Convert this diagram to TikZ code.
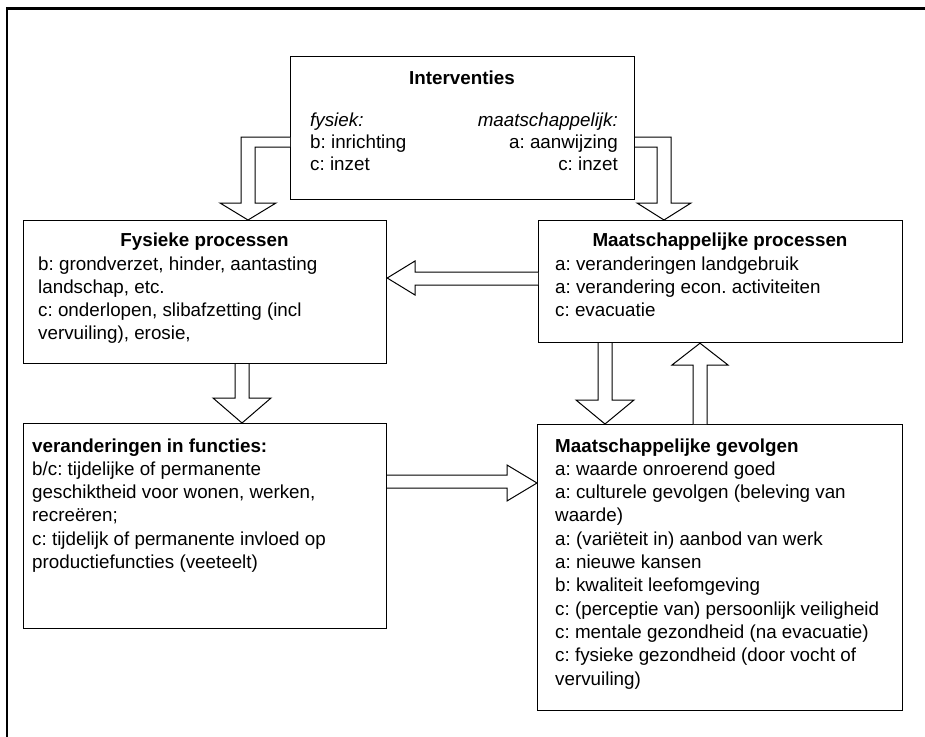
\documentclass[tikz,border=0pt]{standalone}
\usepackage{fontspec}
\setmainfont{Liberation Sans}
\frenchspacing
\begin{document}
\begin{tikzpicture}[x=1pt,y=-1pt,
  box/.style={draw, line width=1.2pt, rectangle, anchor=north west, inner sep=0pt},
  tx/.style={inner sep=0pt, font=\fontsize{18.8}{23.3}\selectfont},
  tl/.style={tx, anchor=base west},
  tr/.style={tx, anchor=base east},
  tc/.style={tx, anchor=base, font=\fontsize{18.8}{23.3}\selectfont\bfseries},
  harrow/.style={draw, line width=1pt, fill=white, line join=miter}]
\useasboundingbox (0,0) rectangle (925,736);
\fill[white] (0,0) rectangle (925,736);
\begin{scope}
\clip (0,0) rectangle (925,736);
\draw[line width=2.5pt] (7.2,760) -- (7.2,8.5) -- (925,8.5);
\end{scope}

% boxes
\node[box, minimum width=344pt, minimum height=143pt] (int) at (290,56) {};
\node[box, minimum width=363pt, minimum height=143pt] (fys) at (23,220) {};
\node[box, minimum width=364pt, minimum height=122pt] (mp) at (538,220) {};
\node[box, minimum width=363pt, minimum height=205pt] (ver) at (23,423) {};
\node[box, minimum width=365pt, minimum height=286pt] (gev) at (537,424) {};

% Interventies text
\node[tc] (intT) at (462,84) {Interventies};
\node[tl] (intL1) at (310,126) {\itshape fysiek:};
\node[tl] (intL2) at (310,148.3) {b: inrichting};
\node[tl] (intL3) at (310,170.7) {c: inzet};
\node[tr] (intR1) at (618,126) {\itshape maatschappelijk:};
\node[tr] (intR2) at (618,148.3) {a: aanwijzing};
\node[tr] (intR3) at (618,170.7) {c: inzet};

% Fysieke processen
\node[tc] (fysT) at (204.5,246.7) {Fysieke processen};
\foreach \t [count=\i from 0] in {{b: grondverzet, hinder, aantasting},{landschap, etc.},{c: onderlopen, slibafzetting (incl},{vervuiling), erosie,}}
  \node[tl] (fys\i) at (38,270+23.3*\i) {\t};

% Maatschappelijke processen
\node[tc] (mpT) at (720,246.7) {Maatschappelijke processen};
\foreach \t [count=\i from 0] in {{a: veranderingen landgebruik},{a: verandering econ. activiteiten},{c: evacuatie}}
  \node[tl] (mp\i) at (555,270+23.3*\i) {\t};

% veranderingen in functies
\node[tl, font=\fontsize{18.8}{23.3}\selectfont\bfseries] (verT) at (32,452) {veranderingen in functies:};
\foreach \t [count=\i from 0] in {{b/c: tijdelijke of permanente},{geschiktheid voor wonen, werken,},{recreëren;},{c: tijdelijk of permanente invloed op},{productiefuncties (veeteelt)}}
  \node[tl] (ver\i) at (32,475.3+23.3*\i) {\t};

% Maatschappelijke gevolgen
\node[tl, font=\fontsize{18.8}{23.3}\selectfont\bfseries] (gevT) at (555,452) {Maatschappelijke gevolgen};
\foreach \t [count=\i from 0] in {{a: waarde onroerend goed},{a: culturele gevolgen (beleving van},{waarde)},{a: (variëteit in) aanbod van werk},{a: nieuwe kansen},{b: kwaliteit leefomgeving},{c: (perceptie van) persoonlijk veiligheid},{c: mentale gezondheid (na evacuatie)},{c: fysieke gezondheid (door vocht of},{vervuiling)}}
  \node[tl] (gev\i) at (555,475.3+23.3*\i) {\t};

% hollow block arrows
% Interventies -> Fysieke processen (elbow)
\draw[harrow] (int.west |- 0,137) -- (241,137) -- (241,203) -- (220,203)
  -- (248,0 |- fys.north) -- (276,203) -- (255,203) -- (255,147) -- (int.west |- 0,147);
% Interventies -> Maatschappelijke processen (elbow)
\draw[harrow] (int.east |- 0,137) -- (671,137) -- (671,203) -- (691,203)
  -- (664,0 |- mp.north) -- (637,203) -- (657,203) -- (657,147) -- (int.east |- 0,147);
% Maatschappelijke processen -> Fysieke processen
\draw[harrow] (mp.west |- 0,272) -- (415,272) -- (415,261) -- (fys.east |- 0,278)
  -- (415,295) -- (415,285) -- (mp.west |- 0,285);
% Fysieke processen -> veranderingen
\draw[harrow] (235,0 |- fys.south) -- (235,398) -- (213,398) -- (242,0 |- ver.north)
  -- (271,398) -- (249,398) -- (249,0 |- fys.south);
% veranderingen -> gevolgen
\draw[harrow] (ver.east |- 0,475) -- (507,475) -- (507,465) -- (gev.west |- 0,483)
  -- (507,501) -- (507,488) -- (ver.east |- 0,488);
% Maatschappelijke processen -> gevolgen
\draw[harrow] (598,0 |- mp.south) -- (598,400) -- (576,400) -- (605,0 |- gev.north)
  -- (634,400) -- (612,400) -- (612,0 |- mp.south);
% gevolgen -> Maatschappelijke processen
\draw[harrow] (693,0 |- gev.north) -- (693,365) -- (672,365) -- (700,0 |- mp.south)
  -- (728,365) -- (707,365) -- (707,0 |- gev.north);
\end{tikzpicture}
\end{document}
